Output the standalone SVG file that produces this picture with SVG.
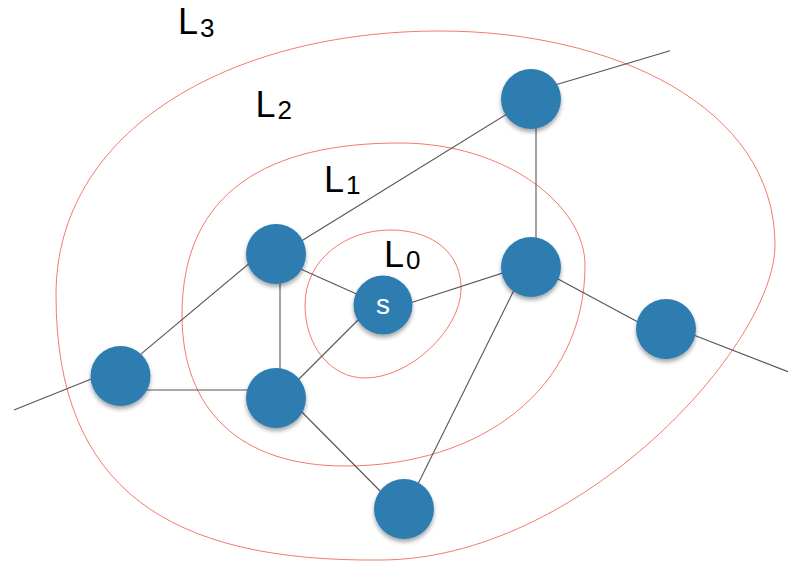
<svg xmlns="http://www.w3.org/2000/svg" width="788" height="563" viewBox="0 0 788 563">
<defs>
<filter id="sh" x="-30%" y="-30%" width="160%" height="170%">
<feDropShadow dx="0" dy="3" stdDeviation="2.2" flood-color="#000" flood-opacity="0.35"/>
</filter>
</defs>
<style>
.layer{fill:none;stroke:#f26a58;stroke-width:0.9}
.edge{stroke:#555;stroke-width:1.1;fill:none}
.node{fill:#2f7db0;filter:url(#sh)}
.lbl{font-family:"Liberation Sans",Arial,sans-serif;font-size:36px;fill:#000}
.sub{font-size:26px}
.nl{font-family:"Liberation Sans",Arial,sans-serif;font-size:28px;fill:#fff;text-anchor:middle}
</style>
<rect width="788" height="563" fill="#fff"/>
<g id="layers">
<path class="layer" d="M305,305 C305,260 345,230 390,230 C435,230 462,255 461,290 C460,330 410,378 365,378 C330,378 305,345 305,305 Z"/>
<path class="layer" d="M182,315 C182,190 270,143 400,143 C505,143 585,205 585,265 C585,390 480,466 345,466 C240,466 182,410 182,315 Z"/>
<path class="layer" d="M56,295 C56,130 230,31 440,31 C610,31 775,105 775,245 C775,345 580,560 380,560 C170,562 56,490 56,295 Z"/>
</g>
<g id="connectors">
<line class="edge" x1="14" y1="410" x2="100" y2="375.5"/>
<line class="edge" x1="125" y1="367.3" x2="262" y2="252.7"/>
<line class="edge" x1="290" y1="248" x2="520" y2="106"/>
<line class="edge" x1="545" y1="88" x2="670" y2="50.7"/>
<line class="edge" x1="536" y1="120" x2="536" y2="250"/>
<line class="edge" x1="280" y1="260" x2="280" y2="390"/>
<line class="edge" x1="120" y1="390" x2="270" y2="390"/>
<line class="edge" x1="290" y1="264.3" x2="370" y2="300"/>
<line class="edge" x1="365" y1="313" x2="290" y2="388"/>
<line class="edge" x1="400" y1="306.3" x2="515" y2="269"/>
<line class="edge" x1="545" y1="272" x2="650" y2="328.5"/>
<line class="edge" x1="680" y1="329.8" x2="788" y2="371.7"/>
<line class="edge" x1="518" y1="282" x2="414" y2="492"/>
<line class="edge" x1="290" y1="400" x2="390" y2="501"/>
</g>
<g id="n-top"><circle class="node" cx="531" cy="99" r="30"/></g>
<g id="n-upperleft"><circle class="node" cx="276" cy="254" r="30"/></g>
<g id="n-s"><circle class="node" cx="383" cy="305" r="29.5"/><text class="nl" x="383" y="313.5">s</text></g>
<g id="n-rightmid"><circle class="node" cx="531" cy="267" r="30"/></g>
<g id="n-left"><circle class="node" cx="120.5" cy="376" r="30"/></g>
<g id="n-lowerleft"><circle class="node" cx="276" cy="398" r="30"/></g>
<g id="n-right"><circle class="node" cx="666" cy="329" r="30"/></g>
<g id="n-bottom"><circle class="node" cx="404" cy="509" r="30"/></g>
<g id="labels">
<text class="lbl" x="178" y="34">L<tspan class="sub" dx="2" dy="3">3</tspan></text>
<text class="lbl" x="255.5" y="116.5">L<tspan class="sub" dx="2" dy="2.5">2</tspan></text>
<text class="lbl" x="324" y="191.5">L<tspan class="sub" dx="2" dy="2.5">1</tspan></text>
<text class="lbl" x="384" y="266.5">L<tspan class="sub" dx="2" dy="2.5">0</tspan></text>
</g>
</svg>
